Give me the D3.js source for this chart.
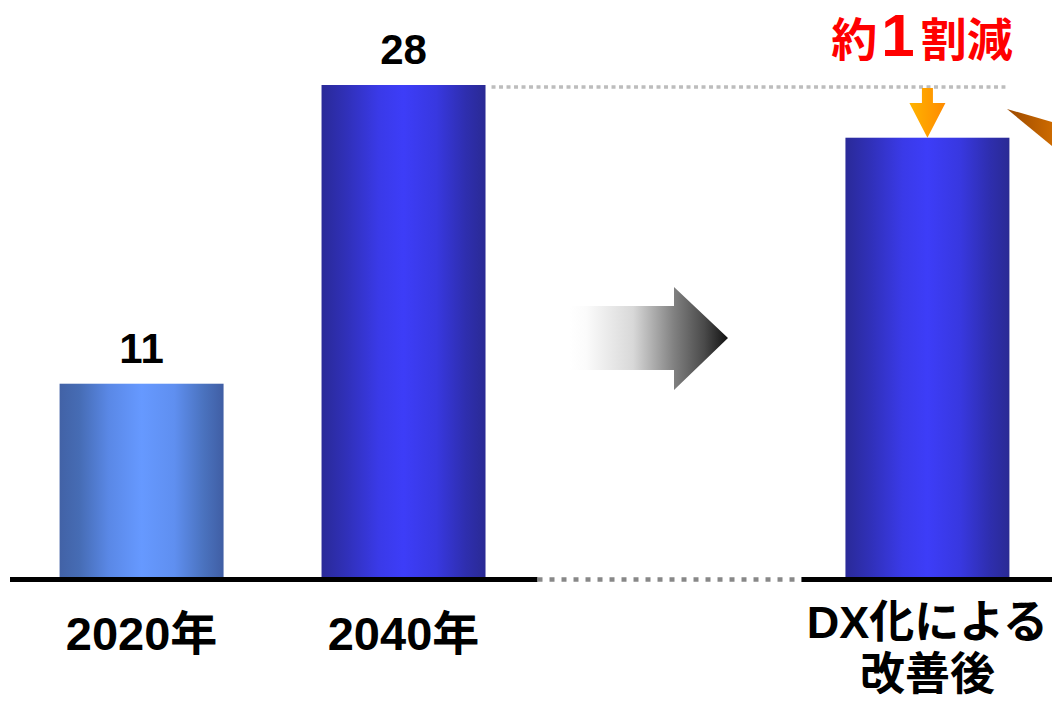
<!DOCTYPE html>
<html>
<head>
<meta charset="utf-8">
<script src="https://cdn.jsdelivr.net/npm/d3@7"></script>
<style>
  body { margin: 0; background: #fff; }
  text { font-family: "Liberation Sans", Arial, "Noto Sans CJK JP", sans-serif; font-weight: bold; }
</style>
</head>
<body>
<div id="chart"></div>
<script>
// Data
const categories = ["2020年", "2040年", "", "DX化による改善後"];
const labelLines = [["2020年"], ["2040年"], [], ["DX化による", "改善後"]];
const values = [11, 28, null, 25];
const showValue = [true, true, false, false];
const reductionText = ["約", "1", "割減"];

const width = 1052;
const height = 706;

const svg = d3.select("#chart")
  .append("svg")
  .attr("width", width)
  .attr("height", height);

const defs = svg.append("defs");

// Bar gradients (cylinder-like shading)
function barGradient(id, stops) {
  const g = defs.append("linearGradient")
    .attr("id", id)
    .attr("x1", "0%").attr("x2", "100%")
    .attr("y1", "0%").attr("y2", "0%");
  stops.forEach(([o, c]) => g.append("stop").attr("offset", o).attr("stop-color", c));
}

barGradient("grad-light", [
  [0, "#4262a6"], [0.12, "#466cb4"], [0.3, "#5a88e6"],
  [0.5, "#6699ff"], [0.7, "#5f8ff0"], [0.88, "#4a72be"], [1, "#405ea4"]
]);
barGradient("grad-dark", [
  [0, "#2a2a98"], [0.15, "#3030b8"], [0.35, "#3a3ae8"],
  [0.5, "#3d3df8"], [0.7, "#3838e0"], [0.88, "#2e2eae"], [1, "#2a2a94"]
]);
barGradient("grad-grey", [
  [0, "#ffffff"], [0.1, "#fbfbfb"], [0.4, "#d8d8d8"],
  [0.66, "#808080"], [0.85, "#4a4a4a"], [1, "#111111"]
]);
barGradient("grad-orange", [
  [0, "#ffb400"], [1, "#ff8a00"]
]);
barGradient("grad-brown", [
  [0, "#9c4a00"], [1, "#cc6a00"]
]);

// Scales
const x = d3.scaleBand()
  .domain(categories)
  .range([8.5, 1060.5])
  .paddingInner(0.374)
  .paddingOuter(0.195);

const y = d3.scaleLinear()
  .domain([0, 28])
  .range([577, 85]);

const barData = categories
  .map((c, i) => ({ cat: c, value: values[i], show: showValue[i], lines: labelLines[i], i }))
  .filter(d => d.value !== null);

// Bars
svg.selectAll(".bar")
  .data(barData)
  .enter()
  .append("rect")
  .attr("class", "bar")
  .attr("x", d => x(d.cat))
  .attr("y", d => y(d.value))
  .attr("width", x.bandwidth())
  .attr("height", d => y(0) - y(d.value))
  .attr("fill", d => d.i === 0 ? "url(#grad-light)" : "url(#grad-dark)");

// Value labels
svg.selectAll(".value-label")
  .data(barData.filter(d => d.show))
  .enter()
  .append("text")
  .attr("class", "value-label")
  .attr("x", d => x(d.cat) + x.bandwidth() / 2)
  .attr("y", d => y(d.value) - 21)
  .attr("text-anchor", "middle")
  .attr("font-size", 42)
  .attr("fill", "#000")
  .text(d => d.value);

// Category labels
const catLabels = svg.selectAll(".cat-label")
  .data(barData)
  .enter()
  .append("text")
  .attr("class", "cat-label")
  .attr("text-anchor", "middle")
  .attr("font-size", d => d.lines.length > 1 ? 45 : 47)
  .attr("fill", "#000");

catLabels.each(function (d) {
  const cx = x(d.cat) + x.bandwidth() / 2;
  const first = d.lines.length > 1 ? 638 : 650;
  d3.select(this).selectAll("tspan")
    .data(d.lines)
    .enter()
    .append("tspan")
    .attr("x", cx)
    .attr("y", (l, j) => first + j * 52)
    .text(l => l);
});

// Baseline: solid / dotted / solid
const x2040 = x(categories[1]) + x.bandwidth();
const xDX = x(categories[3]);
const baseY = y(0) + 2.5;

svg.append("line")
  .attr("x1", 10).attr("x2", x2040 + 52)
  .attr("y1", baseY).attr("y2", baseY)
  .attr("stroke", "#000").attr("stroke-width", 5);

svg.append("line")
  .attr("x1", x2040 + 52).attr("x2", xDX - 44)
  .attr("y1", baseY).attr("y2", baseY)
  .attr("stroke", "#888").attr("stroke-width", 4.5)
  .attr("stroke-dasharray", "5 7");

svg.append("line")
  .attr("x1", xDX - 44).attr("x2", width)
  .attr("y1", baseY).attr("y2", baseY)
  .attr("stroke", "#000").attr("stroke-width", 5);

// Dotted reference line at the 2040 level
svg.append("line")
  .attr("x1", x2040 + 6).attr("x2", xDX + x.bandwidth() - 4)
  .attr("y1", y(values[1]) + 2).attr("y2", y(values[1]) + 2)
  .attr("stroke", "#bdbdbd").attr("stroke-width", 3.5)
  .attr("stroke-dasharray", "4 3.5");

// Big grey gradient arrow in the empty slot
const ax0 = 570, ax1 = 674, ax2 = 728, ay = 338;
svg.append("path")
  .attr("d", `M${ax0},${ay - 32} L${ax1},${ay - 32} L${ax1},${ay - 51} L${ax2},${ay}
              L${ax1},${ay + 52} L${ax1},${ay + 32} L${ax0},${ay + 32} Z`)
  .attr("fill", "url(#grad-grey)");

// Orange down arrow showing the reduction
const ox = xDX + x.bandwidth() / 2;
const oTop = y(values[1]) + 3;
const oTip = y(values[3]);
svg.append("path")
  .attr("d", `M${ox - 5.5},${oTop} L${ox + 5.5},${oTop} L${ox + 5.5},${oTop + 15}
              L${ox + 18},${oTop + 15} L${ox},${oTip} L${ox - 18},${oTop + 15}
              L${ox - 5.5},${oTop + 15} Z`)
  .attr("fill", "url(#grad-orange)");

// Cropped brown callout pointer at the right edge
svg.append("path")
  .attr("d", "M1007,109 L1052,122 L1052,146 Z")
  .attr("fill", "url(#grad-brown)");

// Reduction annotation
const red = svg.append("text")
  .attr("x", 922)
  .attr("y", 56)
  .attr("text-anchor", "middle")
  .attr("fill", "#ff0000");

red.selectAll("tspan")
  .data(reductionText)
  .enter()
  .append("tspan")
  .attr("font-size", (t, i) => i === 1 ? 60 : 46)
  .attr("dx", (t, i) => i === 1 ? 4 : (i === 2 ? 6 : 0))
  .text(t => t);
</script>
</body>
</html>
